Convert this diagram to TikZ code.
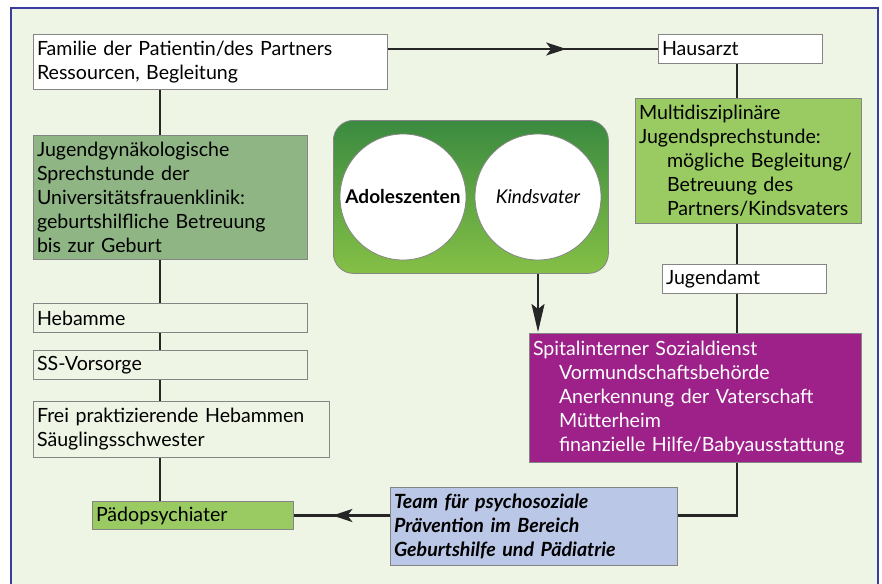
\documentclass[tikz,border=0pt]{standalone}
\usepackage{fontspec}
\setmainfont{Lato}
\usetikzlibrary{arrows.meta,decorations.markings}

\definecolor{bggreen}{HTML}{EEF5E5}
\definecolor{frameblue}{HTML}{3A3C9E}
\definecolor{boxgray}{HTML}{858585}
\definecolor{jugfill}{HTML}{8FB584}
\definecolor{lightgr}{HTML}{9ACB62}
\definecolor{spitfill}{HTML}{9D2189}
\definecolor{teamfill}{HTML}{BAC7E6}
\definecolor{gradtop}{HTML}{3A8A40}
\definecolor{gradbot}{HTML}{85C046}

\begin{document}
\begin{tikzpicture}[x=1pt, y=-1pt,
  box/.style={draw=boxgray, line width=1pt, anchor=north west, align=left,
    inner xsep=3.5pt, inner ysep=0pt, font=\fontsize{19.6}{24}\selectfont},
  circ/.style={circle, draw=boxgray, fill=white, line width=0.8pt,
    minimum size=126pt, inner sep=0pt, font=\fontsize{19}{22}\selectfont},
  link/.style={line width=2.4pt, black!85},
  tip/.style={postaction={decorate}, decoration={markings,
    mark=at position #1 with {\arrow{Stealth[length=20pt,width=13pt,inset=5pt]}}}}]

  \clip (0,0) rectangle (882,583);
  \fill[white] (0,0) rectangle (882,583);
  \draw[fill=bggreen, draw=frameblue, line width=2.5pt] (11,8) rectangle (878,620);

  \coordinate (lx) at (160,0); % left spine
  \coordinate (rx) at (737,0); % right spine

  % left column
  \node[box, fill=white, text width=347pt, minimum height=55pt] (fam) at (33,34)
    {Familie der Patientin/des Partners\\Ressourcen, Begleitung};
  \node[box, fill=jugfill, text width=267pt, minimum height=124pt] (jg) at (33,135)
    {Jugendgynäkologische\\Sprechstunde der\\Universitätsfrauenklinik:\\geburtshilfliche Betreuung\\bis zur Geburt};
  \node[box, text width=267pt, minimum height=29pt] (hb) at (33,303) {Hebamme};
  \node[box, text width=267pt, minimum height=29pt] (ss) at (33,350) {SS-Vorsorge};
  \node[box, text width=289pt, minimum height=56pt] (fr) at (33,401)
    {Frei praktizierende Hebammen\\Säuglingsschwester};
  \node[box, fill=lightgr, text width=194pt, minimum height=28pt] (pd) at (92,501) {Pädopsychiater};

  % middle group
  \node[draw=boxgray, line width=0.8pt, rounded corners=20pt, top color=gradtop,
    bottom color=gradbot, anchor=north west, minimum width=275pt,
    minimum height=153pt] (grp) at (333,120) {};
  \node[circ] (ad) at (403,197) {\bfseries Adoleszenten};
  \node[circ] (kv) at (538,197) {\itshape Kindsvater};

  % right column
  \node[box, fill=white, text width=157pt, minimum height=29pt] (ha) at (658,34) {Hausarzt};
  \node[box, fill=lightgr, text width=219pt, minimum height=125pt] (mu) at (635,98)
    {Multidisziplinäre\\Jugendsprechstunde:\\\hspace*{28pt}mögliche Begleitung/\\\hspace*{28pt}Betreuung des\\\hspace*{28pt}Partners/Kindsvaters};
  \node[box, fill=white, text width=157pt, minimum height=29pt] (ja) at (662,264) {Jugendamt};
  \node[box, fill=spitfill, text=white, text width=325pt, minimum height=129pt] (sp) at (529,333)
    {Spitalinterner Sozialdienst\\\hspace*{26pt}Vormundschaftsbehörde\\\hspace*{26pt}Anerkennung der Vaterschaft\\\hspace*{26pt}Mütterheim\\\hspace*{26pt}finanzielle Hilfe/Babyausstattung};
  \node[box, fill=teamfill, text width=280pt, minimum height=78pt,
    font=\fontsize{19.6}{24}\selectfont\bfseries\itshape] (tm) at (390,487)
    {Team für psychosoziale\\Prävention im Bereich\\Geburtshilfe und Pädiatrie};

  % links
  \draw[link] (fam.south -| lx) -- (jg.north -| lx);
  \draw[link] (jg.south -| lx) -- (hb.north -| lx);
  \draw[link] (hb.south -| lx) -- (ss.north -| lx);
  \draw[link] (ss.south -| lx) -- (fr.north -| lx);
  \draw[link] (fr.south -| lx) -- (pd.north -| lx);
  \draw[link, tip=0.66] (fam.east |- ha.west) -- (ha.west);
  \draw[link] (ha.south -| rx) -- (mu.north -| rx);
  \draw[link] (mu.south -| rx) -- (ja.north -| rx);
  \draw[link] (ja.south -| rx) -- (sp.north -| rx);
  \draw[link] (sp.south -| rx) |- (tm.east |- pd.east);
  \draw[link, tip=0.6] (tm.west |- pd.east) -- (pd.east);
  \draw[link, -{Stealth[length=28pt,width=13pt,inset=5pt]}, shorten >=1pt]
    (grp.south -| kv) -- (sp.north -| kv);
\end{tikzpicture}
\end{document}
